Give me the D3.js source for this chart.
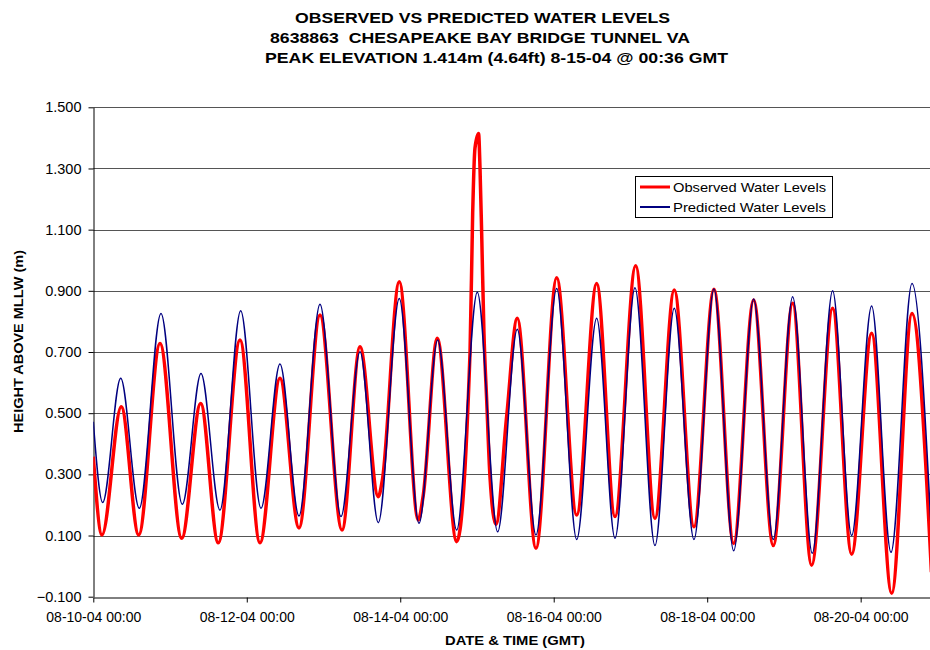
<!DOCTYPE html>
<html>
<head>
<meta charset="utf-8">
<script src="https://cdn.jsdelivr.net/npm/d3@7/dist/d3.min.js"></script>
<style>
  html, body { margin: 0; padding: 0; background: #fff; }
  svg { display: block; font-family: Arial, "Liberation Sans", sans-serif; }
  .title { white-space: pre; }
</style>
</head>
<body>
<svg id="chart" width="930" height="650"></svg>
<script>
// ---------------- DATA ----------------
const titleLines = [
  "OBSERVED VS PREDICTED WATER LEVELS",
  "8638863  CHESAPEAKE BAY BRIDGE TUNNEL VA",
  "PEAK ELEVATION 1.414m (4.64ft) 8-15-04 @ 00:36 GMT"
];
const xAxisTitle = "DATE & TIME (GMT)";
const yAxisTitle = "HEIGHT ABOVE MLLW (m)";
const seriesNames = ["Observed Water Levels", "Predicted Water Levels"];

const xDomain = ["08-10-04 00:00", "08-21-04 00:00"];
const xTicks = ["08-10-04 00:00", "08-12-04 00:00", "08-14-04 00:00",
                "08-16-04 00:00", "08-18-04 00:00", "08-20-04 00:00"];
const yTicks = [-0.1, 0.1, 0.3, 0.5, 0.7, 0.9, 1.1, 1.3, 1.5];

// Observed water levels (turning points and shape points)
const obsTimes = [
  "08-10-04 00:00","08-10-04 02:43","08-10-04 08:45","08-10-04 14:12","08-10-04 20:52",
  "08-11-04 03:39","08-11-04 09:35","08-11-04 15:05","08-11-04 21:53",
  "08-12-04 04:08","08-12-04 10:23","08-12-04 16:20","08-12-04 22:54",
  "08-13-04 05:47","08-13-04 11:25","08-13-04 17:08","08-13-04 18:23","08-13-04 23:42",
  "08-14-04 05:38","08-14-04 07:12","08-14-04 11:35","08-14-04 17:39","08-14-04 21:49",
  "08-14-04 22:39","08-14-04 23:22",
  "08-15-04 00:30","08-15-04 00:56","08-15-04 01:28","08-15-04 02:11","08-15-04 03:02",
  "08-15-04 04:04","08-15-04 05:56","08-15-04 09:17","08-15-04 12:36","08-15-04 18:27",
  "08-16-04 00:56","08-16-04 07:11","08-16-04 13:26","08-16-04 19:10",
  "08-17-04 01:38","08-17-04 07:40","08-17-04 13:42","08-17-04 19:52",
  "08-18-04 02:07","08-18-04 08:17","08-18-04 14:32","08-18-04 20:40",
  "08-19-04 02:44","08-19-04 08:40","08-19-04 15:14","08-19-04 21:11",
  "08-20-04 03:26","08-20-04 09:42","08-20-04 16:03","08-20-04 22:08"
];
const obsValues = [
  0.358, 0.102, 0.521, 0.102, 0.728,
  0.091, 0.532, 0.076, 0.739,
  0.076, 0.614, 0.125, 0.821,
  0.118, 0.717, 0.227, 0.280, 0.930,
  0.151, 0.232, 0.745, 0.080, 0.696,
  1.153, 1.366,
  1.414, 1.306, 1.088, 0.761, 0.543,
  0.292, 0.137, 0.490, 0.810, 0.058,
  0.943, 0.167, 0.924, 0.162,
  0.982, 0.156, 0.903, 0.129,
  0.905, 0.074, 0.870, 0.067,
  0.859, 0.003, 0.843, 0.039,
  0.761, -0.089, 0.826, -0.020
];

// Predicted water levels (turning points)
const predTimes = [
  "08-10-04 00:00","08-10-04 02:56","08-10-04 08:34","08-10-04 14:23","08-10-04 21:10",
  "08-11-04 03:50","08-11-04 09:41","08-11-04 15:37","08-11-04 22:06",
  "08-12-04 04:27","08-12-04 10:23","08-12-04 16:20","08-12-04 22:54",
  "08-13-04 05:28","08-13-04 11:25","08-13-04 17:08","08-13-04 23:42",
  "08-14-04 05:52","08-14-04 11:43","08-14-04 17:39",
  "08-15-04 00:06","08-15-04 06:28","08-15-04 12:36","08-15-04 18:27",
  "08-16-04 00:56","08-16-04 07:11","08-16-04 13:26","08-16-04 19:10",
  "08-17-04 01:25","08-17-04 07:40","08-17-04 13:42","08-17-04 19:52",
  "08-18-04 02:07","08-18-04 08:17","08-18-04 14:32","08-18-04 20:40",
  "08-19-04 02:44","08-19-04 08:52","08-19-04 15:14","08-19-04 21:11",
  "08-20-04 03:26","08-20-04 09:29","08-20-04 16:03","08-20-04 22:08"
];
const predValues = [
  0.472, 0.208, 0.614, 0.189, 0.826,
  0.202, 0.630, 0.183, 0.835,
  0.189, 0.661, 0.164, 0.856,
  0.162, 0.701, 0.142, 0.875,
  0.140, 0.739, 0.118,
  0.895, 0.112, 0.774, 0.102,
  0.908, 0.087, 0.810, 0.091,
  0.910, 0.067, 0.843, 0.087,
  0.906, 0.050, 0.873, 0.087,
  0.881, 0.042, 0.900, 0.100,
  0.850, 0.045, 0.924, 0.100
];

// ---------------- DRAW ----------------
const parse = d3.utcParse("%m-%d-%y %H:%M");
const fmt = d3.utcFormat("%m-%d-%y %H:%M");

const svg = d3.select("#chart");
const plot = { left: 93.3, right: 937.4, top: 107.3, bottom: 596.7 };

const x = d3.scaleUtc().domain(xDomain.map(parse)).range([plot.left, plot.right]);
const y = d3.scaleLinear().domain([-0.1, 1.5]).range([plot.bottom, plot.top]);

// Title
const titleLayout = [
  { x: 295, y: 23, w: 375 },
  { x: 270, y: 43, w: 420 },
  { x: 265, y: 63, w: 463 }
];
titleLines.forEach((t, i) => {
  svg.append("text").attr("class", "title")
    .attr("xml:space", "preserve")
    .attr("x", titleLayout[i].x).attr("y", titleLayout[i].y)
    .attr("textLength", titleLayout[i].w).attr("lengthAdjust", "spacingAndGlyphs")
    .attr("font-size", 15).attr("font-weight", "bold").attr("fill", "#000")
    .text(t);
});

// Clip
svg.append("defs").append("clipPath").attr("id", "clip")
  .append("rect").attr("x", plot.left).attr("y", plot.top - 5)
  .attr("width", plot.right - plot.left).attr("height", plot.bottom - plot.top + 10);

// Gridlines
svg.append("g").selectAll("line")
  .data(yTicks.filter(v => v > -0.1))
  .join("line")
  .attr("x1", plot.left).attr("x2", plot.right)
  .attr("y1", d => Math.round(y(d)) + 0.5).attr("y2", d => Math.round(y(d)) + 0.5)
  .attr("stroke", "#555").attr("stroke-width", 1);

// Y axis
const yAxis = d3.axisLeft(y).tickValues(yTicks).tickFormat(d3.format(".3f"))
  .tickSize(5).tickSizeOuter(0).tickPadding(7);
const gy = svg.append("g").attr("transform", `translate(${Math.round(plot.left)+0.5},0)`).call(yAxis);
gy.select(".domain").attr("stroke", "#000");
gy.selectAll(".tick line").attr("stroke", "#000");
gy.selectAll(".tick text").attr("font-size", 14.5).attr("font-family", "Arial, 'Liberation Sans', sans-serif").attr("fill", "#000");

// X axis
const xAxis = d3.axisBottom(x).tickValues(xTicks.map(parse)).tickFormat(fmt)
  .tickSize(5).tickSizeOuter(0).tickPadding(10);
const gx = svg.append("g").attr("transform", `translate(0,${Math.round(plot.bottom)+0.5})`).call(xAxis);
gx.select(".domain").attr("stroke", "#000");
gx.selectAll(".tick line").attr("stroke", "#000");
gx.selectAll(".tick text").attr("font-size", 14).attr("font-family", "Arial, 'Liberation Sans', sans-serif").attr("fill", "#000");

// Lines
const obs = obsTimes.map((t, i) => ({ t: parse(t), v: obsValues[i] }));
const pred = predTimes.map((t, i) => ({ t: parse(t), v: predValues[i] }));
const line = d3.line().x(d => x(d.t)).y(d => y(d.v)).curve(d3.curveMonotoneX);

const lines = svg.append("g").attr("clip-path", "url(#clip)");
lines.append("path").datum(obs).attr("d", line)
  .attr("fill", "none").attr("stroke", "#ff0000").attr("stroke-width", 3.5)
  .attr("stroke-linejoin", "round");
lines.append("path").datum(pred).attr("d", line)
  .attr("fill", "none").attr("stroke", "#000080").attr("stroke-width", 1.5)
  .attr("stroke-linejoin", "round");

// Axis titles
svg.append("text").attr("x", 445).attr("y", 645)
  .attr("textLength", 140).attr("lengthAdjust", "spacingAndGlyphs")
  .attr("font-size", 13).attr("font-weight", "bold").text(xAxisTitle);
svg.append("text")
  .attr("transform", "translate(23,433) rotate(-90)")
  .attr("textLength", 183).attr("lengthAdjust", "spacingAndGlyphs")
  .attr("font-size", 13).attr("font-weight", "bold").text(yAxisTitle);

// Legend
const lg = svg.append("g");
lg.append("rect").attr("x", 635.5).attr("y", 176.5).attr("width", 197).attr("height", 41)
  .attr("fill", "#fff").attr("stroke", "#000").attr("stroke-width", 1);
const legColors = ["#ff0000", "#000080"];
const legWidths = [3, 2];
seriesNames.forEach((n, i) => {
  const yy = 187 + i * 20;
  lg.append("line").attr("x1", 640).attr("x2", 670).attr("y1", yy).attr("y2", yy)
    .attr("stroke", legColors[i]).attr("stroke-width", legWidths[i]);
  lg.append("text").attr("x", 673).attr("y", yy + 5)
    .attr("textLength", 153).attr("lengthAdjust", "spacingAndGlyphs")
    .attr("font-size", 13.5).attr("fill", "#000").text(n);
});
</script>
</body>
</html>
